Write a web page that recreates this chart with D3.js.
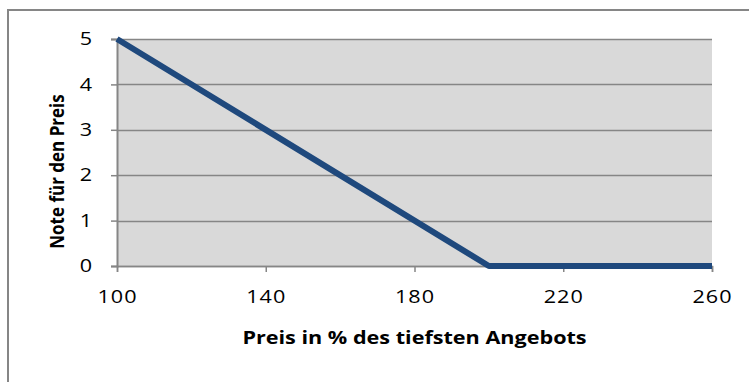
<!DOCTYPE html>
<html>
<head>
<meta charset="utf-8">
<script src="https://cdn.jsdelivr.net/npm/d3@7"></script>
<style>
  html, body { margin: 0; padding: 0; background: #fff; }
  svg { display: block; }
</style>
</head>
<body>
<svg id="chart" width="749" height="382"></svg>
<script>
// Price in % of the lowest offer vs. the resulting price grade
const prices = [100, 200, 260];
const grades = [5, 0, 0];
const xTicks = [100, 140, 180, 220, 260];
const yTicks = [0, 1, 2, 3, 4, 5];
const xTitle = "Preis in % des tiefsten Angebots";
const yTitle = "Note für den Preis";

const svg = d3.select("#chart");
const W = 749, H = 382;
const plot = { left: 117, right: 712, top: 39, bottom: 266 };
const font = "'Open Sans', 'Liberation Sans', sans-serif";
const stretch = 1.2; // glyphs are drawn slightly wide

// outer chart frame (runs past the right and bottom edges)
svg.append("rect")
  .attr("x", 8).attr("y", 10)
  .attr("width", W).attr("height", H)
  .attr("fill", "#fff")
  .attr("stroke", "#868686").attr("stroke-width", 2);

const x = d3.scaleLinear().domain([100, 260]).range([plot.left, plot.right]);
const y = d3.scaleLinear().domain([0, 5]).range([plot.bottom, plot.top]);

// plot background
svg.append("rect")
  .attr("x", plot.left).attr("y", plot.top)
  .attr("width", plot.right - plot.left).attr("height", plot.bottom - plot.top)
  .attr("fill", "#d9d9d9");

// horizontal gridlines
svg.append("g")
  .selectAll("line").data(yTicks).join("line")
  .attr("x1", plot.left).attr("x2", plot.right)
  .attr("y1", d => Math.round(y(d)) + 0.5).attr("y2", d => Math.round(y(d)) + 0.5)
  .attr("stroke", "#868686").attr("stroke-width", 1.5);

// y axis
const yAxis = svg.append("g")
  .attr("transform", `translate(${plot.left},0)`)
  .call(d3.axisLeft(y).tickValues(yTicks).tickSize(6).tickPadding(0).tickFormat(d3.format("d")));
yAxis.select(".domain").attr("stroke", "#868686").attr("stroke-width", 2);
yAxis.selectAll(".tick line").attr("stroke", "#868686").attr("stroke-width", 1.5);
yAxis.selectAll(".tick text")
  .attr("x", 0)
  .attr("text-anchor", "middle")
  .attr("transform", `translate(-31,0) scale(${stretch},1)`)
  .attr("font-family", font).attr("font-size", 18).attr("fill", "#000");

// x axis
const xAxis = svg.append("g")
  .attr("transform", `translate(0,${plot.bottom})`)
  .call(d3.axisBottom(x).tickValues(xTicks).tickSize(6).tickPadding(18).tickFormat(d3.format("d")));
xAxis.select(".domain").attr("stroke", "#868686").attr("stroke-width", 1.5);
xAxis.selectAll(".tick line").attr("stroke", "#868686").attr("stroke-width", 1.5);
xAxis.selectAll(".tick text")
  .attr("transform", `scale(${stretch},1)`)
  .attr("font-family", font).attr("font-size", 18).attr("fill", "#000")
  .attr("letter-spacing", 0.8);

// grade line
const line = d3.line().x((d, i) => x(prices[i])).y(d => y(d));
svg.append("path")
  .datum(grades)
  .attr("d", line)
  .attr("fill", "none")
  .attr("stroke", "#1f497d")
  .attr("stroke-width", 6)
  .attr("stroke-linejoin", "round");

// axis titles
svg.append("text")
  .attr("transform", `translate(${(plot.left + plot.right) / 2},344) scale(${stretch},1)`)
  .attr("text-anchor", "middle")
  .attr("font-family", font).attr("font-size", 18).attr("font-weight", "bold")
  .attr("fill", "#000")
  .text(xTitle);

svg.append("text")
  .attr("transform", `translate(64,${(plot.top + plot.bottom) / 2 + 19}) scale(${stretch},1) rotate(-90)`)
  .attr("text-anchor", "middle")
  .attr("font-family", font).attr("font-size", 17).attr("font-weight", "bold")
  .attr("fill", "#000")
  .text(yTitle);
</script>
</body>
</html>
